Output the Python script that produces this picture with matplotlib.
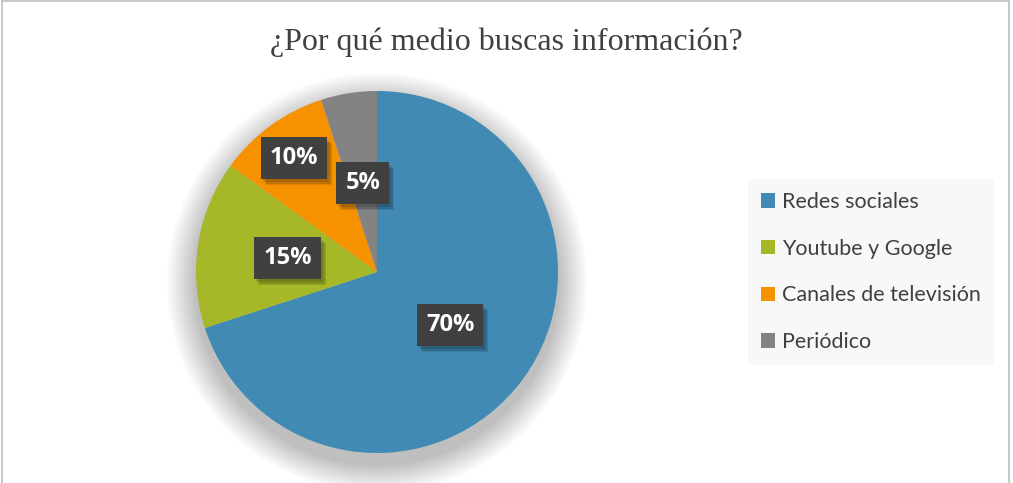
import numpy as np
import matplotlib
matplotlib.use("Agg")
import matplotlib.pyplot as plt
from matplotlib.patches import Patch, Circle, Rectangle
from matplotlib.lines import Line2D
from matplotlib.transforms import IdentityTransform

# Data
categories = ["Redes sociales", "Youtube y Google", "Canales de televisión", "Periódico"]
values = [70, 15, 10, 5]
pct_labels = ["70%", "15%", "10%", "5%"]
title = "¿Por qué medio buscas información?"

colors = ["#418AB3", "#A6B727", "#F69200", "#838383"]
label_radius = [0.5, 0.5, 0.78, 0.5]

W, H = 1013, 483
fig = plt.figure(figsize=(W / 100, H / 100), dpi=100)
fig.patch.set_facecolor("white")

# Pie axes (pixel layout)
cx, cy, r = 377, 272, 181
ax = fig.add_axes([(cx - r) / W, (H - cy - r) / H, 2 * r / W, 2 * r / H])

# soft shadow
for k in range(16):
    rad = 1.16 - k * 0.01
    ax.add_patch(Circle((0.0, -0.06), rad, color="black", alpha=0.015, lw=0,
                        clip_on=False, zorder=0))

wedges, _ = ax.pie(values, colors=colors, startangle=90, counterclock=False,
                   radius=1.0, wedgeprops=dict(linewidth=0))
for w in wedges:
    w.set_zorder(2)
ax.set_xlim(-1, 1)
ax.set_ylim(-1, 1)
ax.set_aspect("equal")
ax.axis("off")

total = sum(values)
start = 90.0
texts = []
for v, lab, lr in zip(values, pct_labels, label_radius):
    sweep = 360.0 * v / total
    mid = np.deg2rad(start - sweep / 2)
    start -= sweep
    x, y = lr * np.cos(mid), lr * np.sin(mid)
    t = ax.text(x, y, lab, ha="center", va="center", fontsize=17, fontweight="bold",
                family="Open Sans", color="white", zorder=6,
                bbox=dict(boxstyle="square,pad=0.38", fc="#404040", ec="none"))
    texts.append(t)

# Title
fig.text(0.5, 1 - 42 / H, title, ha="center", va="center", fontsize=23,
         family="Liberation Serif", color="#404040")

# Legend
handles = [Patch(facecolor=c, edgecolor="none") for c in colors]
leg = fig.legend(handles, categories, loc="center left",
                 bbox_to_anchor=(748 / W, 1 - 272 / H), frameon=True,
                 prop=dict(family="Lato", size=15.5),
                 handlelength=0.65, handleheight=0.65, handletextpad=0.35,
                 labelspacing=1.24, borderpad=0.6, borderaxespad=0)
leg.get_frame().set_facecolor("#F7F7F7")
leg.get_frame().set_edgecolor("none")
leg.get_frame().set_boxstyle("square", pad=0)
for t in leg.get_texts():
    t.set_color("#404040")

# shadows for label boxes (drawn beneath the boxes)
fig.canvas.draw()
for t in texts:
    bb = t.get_bbox_patch().get_window_extent()
    for dx, dy, a in [(5, -6, 0.10), (4, -5, 0.12), (2, -3, 0.12)]:
        ax.add_patch(Rectangle((bb.x0 + dx, bb.y0 + dy), bb.width, bb.height,
                               transform=IdentityTransform(), fc=(0, 0, 0, a),
                               ec="none", zorder=3, clip_on=False))

# Figure border (left, top, right)
bc = "#BFBFBF"
fig.add_artist(Line2D([2 / W, 2 / W], [0, 1 - 1 / H], color=bc, lw=1.2, transform=fig.transFigure))
fig.add_artist(Line2D([1009 / W, 1009 / W], [0, 1 - 1 / H], color=bc, lw=1.2, transform=fig.transFigure))
fig.add_artist(Line2D([2 / W, 1009 / W], [1 - 1 / H, 1 - 1 / H], color=bc, lw=1.2, transform=fig.transFigure))

fig.savefig("out.png", dpi=100, facecolor="white")
